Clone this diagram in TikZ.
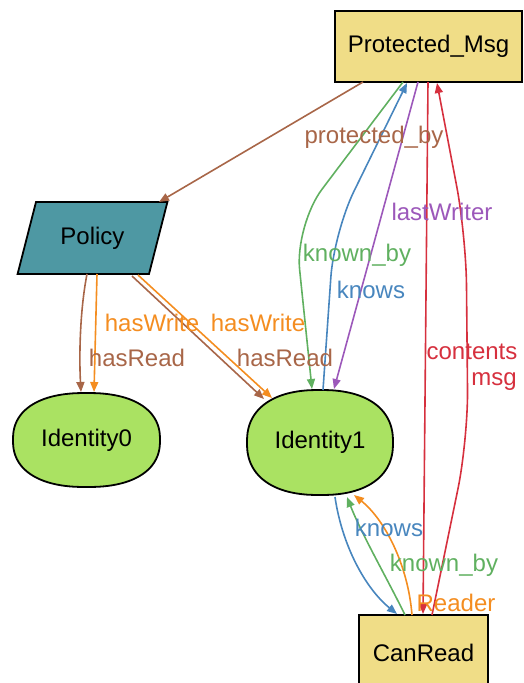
\documentclass[tikz,border=0pt]{standalone}
\usepackage{fontspec}
\setmainfont{Liberation Sans}
\usetikzlibrary{shapes.geometric,arrows.meta,calc}

\definecolor{boxfill}{RGB}{240,221,135}
\definecolor{polfill}{RGB}{78,152,163}
\definecolor{idfill}{RGB}{170,226,98}
\definecolor{cbrown}{RGB}{168,102,72}
\definecolor{corange}{RGB}{244,141,32}
\definecolor{cgreen}{RGB}{96,176,96}
\definecolor{cblue}{RGB}{72,134,190}
\definecolor{cpurple}{RGB}{156,88,186}
\definecolor{cred}{RGB}{214,48,62}

% rounded "squircle" outline used for the identity nodes
\newcommand\blobshape[4]{%
  \draw[line width=1.8pt, fill=idfill]
    plot[domain=1.5:358.5, samples=120]
    ({#1+#3*sign(cos(\x))*pow(abs(cos(\x)),0.85)},
     {#2+#4*sign(sin(\x))*pow(abs(sin(\x)),0.85)}) -- cycle;}

\begin{document}
\begin{tikzpicture}[x=1pt,y=-1pt,
  every node/.style={font=\fontsize{24}{28}\selectfont, inner sep=0pt},
  nodebox/.style={draw=black, line width=1.8pt, fill=boxfill, rectangle},
  rel/.style={line width=1.6pt, draw=#1, -{Triangle[length=10pt,width=8pt]}},
  lbl/.style={text=#1},
]
\useasboundingbox (0,0) rectangle (523,683);
\clip (0,0) rectangle (523,683);

% ---- nodes ----
\node[nodebox, minimum width=187, minimum height=71] (pm) at (428.5,46.5) {Protected\_Msg};
\node[trapezium, draw=black, line width=1.8pt, fill=polfill,
      trapezium left angle=65, trapezium right angle=115, trapezium stretches=true,
      minimum width=151, minimum height=72] (pol) at (92.5,238) {Policy};
\blobshape{86.5}{440}{73.5}{47}
\node[ellipse, minimum width=147, minimum height=94] (id0) at (86.5,440) {Identity0};
\blobshape{320}{442.5}{73}{52.5}
\node[ellipse, minimum width=146, minimum height=105] (id1) at (320,442.5) {Identity1};
\node[nodebox, minimum width=129, minimum height=75] (cr) at (423.5,652.5) {CanRead};

% ---- connectors ----
\draw[rel=cbrown] ($(pm)+(-65.5,35.5)$) -- ($(pol)+(66.5,-36)$);
\draw[rel=cbrown] ($(pol)+(-5.5,36)$) .. controls (80,310) and (79,355) .. ($(id0)+(-5.5,-48)$);
\draw[rel=corange] ($(pol)+(4.5,36)$) -- ($(id0)+(7.5,-48)$);
\draw[rel=cbrown] ($(pol)+(39.5,38)$) -- ($(id1)+(-56,-43.5)$);
\draw[rel=corange] ($(pol)+(45.5,37)$) -- ($(id1)+(-48,-44.5)$);
\draw[rel=cgreen, rounded corners=45] ($(pm)+(-25.5,35.5)$) -- (295,225) -- ($(id1)+(-8,-53.5)$);
\draw[rel=cblue, rounded corners=45] ($(id1)+(3,-52.5)$) -- (334,232) -- ($(pm)+(-21.5,36.5)$);
\draw[rel=cpurple] ($(pm)+(-10.5,35.5)$) -- ($(id1)+(14,-53.5)$);
\draw[rel=cred] ($(pm)+(-0.5,35.5)$) -- ($(cr)+(-0.5,-38.5)$);
\draw[rel=cred, rounded corners=50] ($(cr)+(8.5,-37.5)$) -- (468,440) -- (466,235) -- ($(pm)+(8.5,36.5)$);
\draw[rel=cblue] ($(id1)+(15,54.5)$) .. controls (342,545) and (365,588) .. ($(cr)+(-26.5,-38.5)$);
\draw[rel=cgreen] ($(cr)+(-18.5,-37.5)$) .. controls (388,580) and (362,535) .. ($(id1)+(27,54.5)$);
\draw[rel=corange] ($(cr)+(-11.5,-37.5)$) .. controls (408,565) and (385,520) .. ($(id1)+(34,52.5)$);

% ---- edge labels ----
\node[lbl=cbrown] (tprot) at (374,137) {protected\_by};
\node[lbl=corange] (thw0) at (152,323) {hasWrite};
\node[lbl=corange] (thw1) at (258,323) {hasWrite};
\node[lbl=cbrown] (thr0) at (137,358) {hasRead};
\node[lbl=cbrown] (thr1) at (285,358) {hasRead};
\node[lbl=cpurple] (tlw) at (442,212) {lastWriter};
\node[lbl=cgreen] (tkb) at (357,255) {known\_by};
\node[lbl=cblue] (tkn) at (371,290) {knows};
\node[lbl=cred] (tcont) at (472,352) {contents};
\node[lbl=cred] (tmsg) at (494,382) {msg};
\node[lbl=cblue] (tkn2) at (389,528) {knows};
\node[lbl=cgreen] (tkb2) at (444,565) {known\_by};
\node[lbl=corange] (trd) at (456,603) {Reader};
\end{tikzpicture}
\end{document}
